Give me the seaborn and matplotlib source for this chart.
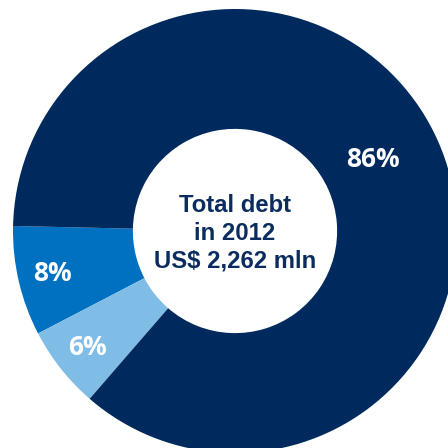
import matplotlib
matplotlib.use("Agg")
import matplotlib.pyplot as plt
import seaborn as sns

sns.set_style("white")
plt.rcParams["font.family"] = ["Liberation Sans", "DejaVu Sans"]

# Debt structure, 2012 (share of total, %)
segments = ["Segment B", "Segment C", "Segment A"]
shares = [8, 6, 86]
center_lines = ["Total debt", "in 2012", "US$ 2,262 mln"]

colors = sns.color_palette(["#0070C0", "#80BDE6", "#002A5E"])

fig = plt.figure(figsize=(4.48, 4.48), dpi=100)
ax = fig.add_axes([0, 0, 1, 1])

wedges, texts, autotexts = ax.pie(
    shares,
    colors=colors,
    startangle=178.7,
    counterclock=True,
    radius=1.0,
    wedgeprops=dict(width=0.54, linewidth=0),
    autopct="%.0f%%",
    pctdistance=0.845,
    textprops=dict(color="white", fontsize=19, fontweight="bold",
                   family=["Open Sans", "DejaVu Sans"]),
)

# the large segment's label sits in the upper right part of its ring
autotexts[2].set_position((0.62, 0.32))

ax.text(0.0, -0.01, "\n".join(center_lines), ha="center", va="center",
        fontsize=17.2, fontweight="bold", color="#0B2C5E", linespacing=1.27)

ax.set_aspect("equal")
ax.set_xlim(-235 / 222, (448 - 235) / 222)
ax.set_ylim(-(448 - 231) / 222, 231 / 222)
ax.axis("off")

fig.savefig("out.png", dpi=100)
